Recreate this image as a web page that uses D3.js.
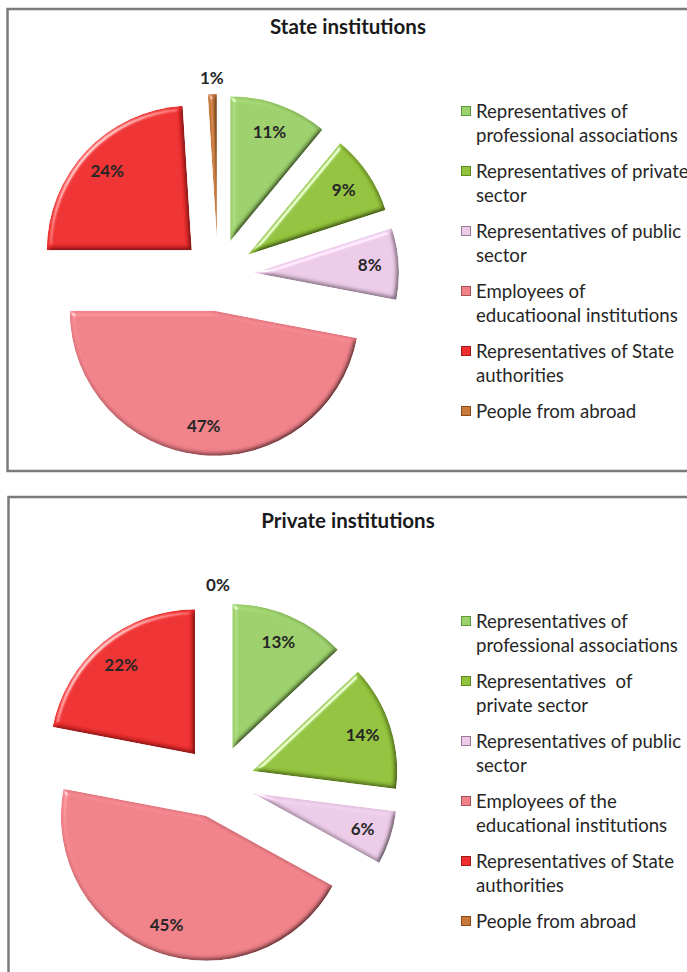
<!DOCTYPE html>
<html>
<head>
<meta charset="utf-8">
<script src="https://cdn.jsdelivr.net/npm/d3@7.9.0/dist/d3.min.js"></script>
<style>
  body { margin: 0; background: #fff; }
  svg { display: block; font-family: Lato, "Open Sans", sans-serif; }
</style>
</head>
<body>
<svg id="chart" width="687" height="972"></svg>
<script>
// Chart data
const stateCategories = [
  ['Representatives of', 'professional associations'],
  ['Representatives of private', 'sector'],
  ['Representatives of public', 'sector'],
  ['Employees of', 'educatioonal institutions'],
  ['Representatives of State', 'authorities'],
  ['People from abroad']
];
const stateValues = [11, 9, 8, 47, 24, 1];

const privateCategories = [
  ['Representatives of', 'professional associations'],
  ['Representatives  of', 'private sector'],
  ['Representatives of public', 'sector'],
  ['Employees of the', 'educational institutions'],
  ['Representatives of State', 'authorities'],
  ['People from abroad']
];
const privateValues = [13, 14, 6, 45, 22, 0];

const sliceColors = ['#9dd16c', '#93c33c', '#eccbe8', '#f08189', '#ee2e2f', '#c97a3a'];
const edgeColors = ['#5e9a3a', '#5b8a1e', '#9a7a98', '#a85058', '#a01818', '#8a4a1a'];

const svg = d3.select('#chart');

// Bevel filter to mimic the Excel look
const defs = svg.append('defs');
const f = defs.append('filter').attr('id', 'bevel')
  .attr('x', '-10%').attr('y', '-10%').attr('width', '120%').attr('height', '120%');
f.append('feGaussianBlur').attr('in', 'SourceAlpha').attr('stdDeviation', 2.5).attr('result', 'blur');
f.append('feDiffuseLighting').attr('in', 'blur').attr('surfaceScale', 4)
  .attr('diffuseConstant', 1.155).attr('lighting-color', '#fff').attr('result', 'diff')
  .append('feDistantLight').attr('azimuth', 225).attr('elevation', 60);
f.append('feComposite').attr('in', 'diff').attr('in2', 'SourceAlpha').attr('operator', 'in').attr('result', 'diffIn');
f.append('feSpecularLighting').attr('in', 'blur').attr('surfaceScale', 4)
  .attr('specularConstant', 0.6).attr('specularExponent', 30).attr('lighting-color', '#fff').attr('result', 'spec')
  .append('feDistantLight').attr('azimuth', 225).attr('elevation', 30);
f.append('feComposite').attr('in', 'spec').attr('in2', 'SourceAlpha').attr('operator', 'in').attr('result', 'specIn');
f.append('feComposite').attr('in', 'SourceGraphic').attr('in2', 'diffIn')
  .attr('operator', 'arithmetic').attr('k1', 1).attr('k2', 0).attr('k3', 0).attr('k4', 0).attr('result', 'lit');
f.append('feComposite').attr('in', 'lit').attr('in2', 'specIn')
  .attr('operator', 'arithmetic').attr('k1', 0).attr('k2', 1).attr('k3', 1).attr('k4', 0);

const radius = 145;
const explode = 36;

const pie = d3.pie().sort(null).value(d => d);
const arc = d3.arc().innerRadius(0).outerRadius(radius);

function drawPanel(p, title, categories, values) {
  const g = svg.append('g');

  // Panel border
  g.append('rect')
    .attr('x', p.left).attr('y', p.top)
    .attr('width', 700).attr('height', p.height)
    .attr('fill', 'none')
    .attr('stroke', '#7a7a7a')
    .attr('stroke-width', 2.5);

  g.append('text')
    .attr('x', 348).attr('y', p.titleY)
    .attr('dy', '0.35em')
    .attr('text-anchor', 'middle')
    .attr('font-weight', 'bold')
    .attr('font-size', 20.5)
    .attr('fill', '#1a1a1a')
    .text(title);

  const pieG = g.append('g').attr('transform', `translate(${p.cx},${p.cy})`);
  const arcs = pie(values);

  arcs.forEach((d, i) => {
    const mid = (d.startAngle + d.endAngle) / 2;
    const dx = Math.sin(mid) * explode;
    const dy = -Math.cos(mid) * explode;
    const sg = pieG.append('g').attr('transform', `translate(${dx},${dy})`);
    if (d.value > 0) {
      sg.append('path')
        .attr('d', arc(d))
        .attr('fill', sliceColors[i])
        .attr('filter', 'url(#bevel)');
    }
    // Label: inside for big slices, outside for tiny ones
    const lr = d.value < 2 ? radius + 16 : radius * 0.8;
    sg.append('text')
      .attr('x', Math.sin(mid) * lr)
      .attr('y', -Math.cos(mid) * lr)
      .attr('dy', '0.35em')
      .attr('text-anchor', 'middle')
      .attr('font-weight', 'bold')
      .attr('font-size', 17)
      .attr('fill', '#262626')
      .text(d.value + '%');
  });

  // Legend
  const lg = g.append('g').attr('transform', `translate(461,${p.legendY})`);
  categories.forEach((lines, i) => {
    const item = lg.append('g').attr('transform', `translate(0,${i * 60})`);
    item.append('rect')
      .attr('x', 0.5).attr('y', -4.5)
      .attr('width', 9).attr('height', 9)
      .attr('fill', sliceColors[i])
      .attr('stroke', edgeColors[i])
      .attr('stroke-width', 1);
    lines.forEach((t, j) => {
      item.append('text')
        .attr('x', 15).attr('y', j * 24)
        .attr('dy', '0.35em')
        .attr('font-size', 18.6)
        .attr('fill', '#262626')
        .attr('xml:space', 'preserve')
        .text(t);
    });
  });
}

drawPanel({ left: 7.5, top: 9, height: 462, titleY: 27, cx: 218, cy: 275, legendY: 111 },
  'State institutions', stateCategories, stateValues);
drawPanel({ left: 8.5, top: 497, height: 500, titleY: 521, cx: 218, cy: 782, legendY: 621 },
  'Private institutions', privateCategories, privateValues);
</script>
</body>
</html>
